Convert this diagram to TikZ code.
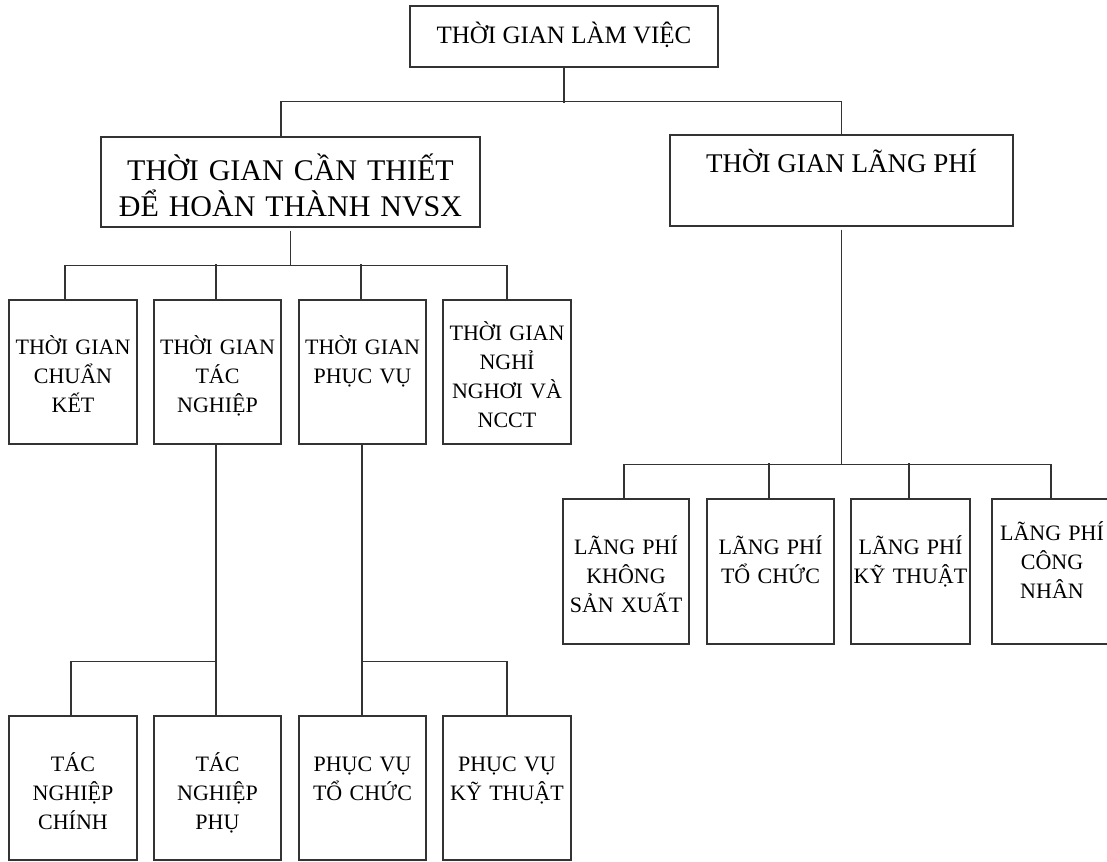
\documentclass[tikz,border=0pt]{standalone}
\usepackage{fontspec}
\setmainfont{Liberation Serif}
\begin{document}
\begin{tikzpicture}[x=1pt,y=-1pt,
  box/.style={draw=black!80, line width=1.2pt, inner sep=0pt, rectangle},
  conn/.style={draw=black!80, line width=1.2pt},
  txt/.style={anchor=base, align=center, inner sep=0pt, text width=150pt, font=\fontsize{22}{29}\selectfont},
  big/.style={font=\fontsize{30}{36}\selectfont},
  mid/.style={font=\fontsize{26}{30}\selectfont}]
\useasboundingbox (0,0) rectangle (1107,861);
\clip (0,0) rectangle (1107,861);
% level 0
\node[box, minimum width=308pt, minimum height=61pt] (top) at (564,36.5) {};
\node[anchor=base, inner sep=0pt, font=\fontsize{25}{30}\selectfont] (toptxt) at (564,44) {THỜI GIAN LÀM VIỆC};
% level 1
\node[box, minimum width=379pt, minimum height=90pt] (big) at (290.5,182) {};
\begin{scope}
\clip (101,137) rectangle (480,215.5);
\node[txt, big, text width=380pt] (bigtxt) at (290.5,180) {THỜI GIAN CẦN THIẾT\\ĐỂ HOÀN THÀNH NVSX};
\end{scope}
\node[box, minimum width=343pt, minimum height=91pt] (waste) at (841.5,180.5) {};
\node[anchor=base, inner sep=0pt, font=\fontsize{27}{30}\selectfont] (wastetxt) at (841.5,173) {THỜI GIAN LÃNG PHÍ};
% level 2 left
\node[box, minimum width=128pt, minimum height=144pt] (b1) at (73,372) {};
\node[box, minimum width=127pt, minimum height=144pt] (b2) at (217.5,372) {};
\node[box, minimum width=127pt, minimum height=144pt] (b3) at (362.5,372) {};
\node[box, minimum width=128pt, minimum height=144pt] (b4) at (507,372) {};
\node[txt] (b1t) at (73,354) {THỜI GIAN\\CHUẨN\\KẾT};
\node[txt] (b2t) at (217.5,354) {THỜI GIAN\\TÁC\\NGHIỆP};
\node[txt] (b3t) at (362.5,354) {THỜI GIAN\\PHỤC VỤ};
\node[txt] (b4t) at (507,340) {THỜI GIAN\\NGHỈ\\NGHƠI VÀ\\NCCT};
% level 3 left
\node[box, minimum width=128pt, minimum height=144pt] (c1) at (73,788) {};
\node[box, minimum width=127pt, minimum height=144pt] (c2) at (217.5,788) {};
\node[box, minimum width=127pt, minimum height=144pt] (c3) at (362.5,788) {};
\node[box, minimum width=128pt, minimum height=144pt] (c4) at (507,788) {};
\node[txt] (c1t) at (73,771) {TÁC\\NGHIỆP\\CHÍNH};
\node[txt] (c2t) at (217.5,771) {TÁC\\NGHIỆP\\PHỤ};
\node[txt] (c3t) at (362.5,771) {PHỤC VỤ\\TỔ CHỨC};
\node[txt] (c4t) at (507,771) {PHỤC VỤ\\KỸ THUẬT};
% level 2 right
\node[box, minimum width=126pt, minimum height=145pt] (r1) at (626,571.5) {};
\node[box, minimum width=127pt, minimum height=145pt] (r2) at (770.5,571.5) {};
\node[box, minimum width=119pt, minimum height=145pt] (r3) at (910.5,571.5) {};
\node[box, minimum width=126pt, minimum height=145pt] (r4) at (1055,571.5) {};
\node[txt] (r1t) at (626,554) {LÃNG PHÍ\\KHÔNG\\SẢN XUẤT};
\node[txt] (r2t) at (770.5,554) {LÃNG PHÍ\\TỔ CHỨC};
\node[txt] (r3t) at (910.5,554) {LÃNG PHÍ\\KỸ THUẬT};
\node[txt] (r4t) at (1052,540) {LÃNG PHÍ\\CÔNG\\NHÂN};
% connectors
\draw[conn] (top.south) -- ++(0,35);
\draw[conn] ([xshift=-9.5pt]big.north) -- ++(0,-35) -| (waste.north);
\draw[conn] ([yshift=-3pt]big.south) -- ++(0,35) coordinate (h1);
\draw[conn] ([xshift=-8pt]b1.north) |- (h1);
\draw[conn] (b4.north) |- (h1);
\draw[conn] ([xshift=-1.5pt]b2.north) -- ++(0,-35);
\draw[conn] ([xshift=-1.5pt]b3.north) -- ++(0,-35);
\draw[conn] ([yshift=-3pt]waste.south) -- ++(0,235) coordinate (h2);
\draw[conn] ([xshift=-2pt]r1.north) |- (h2);
\draw[conn] ([xshift=-4pt]r4.north) |- (h2);
\draw[conn] ([xshift=-1.5pt]r2.north) -- ++(0,-35);
\draw[conn] ([xshift=-1.5pt]r3.north) -- ++(0,-35);
\draw[conn] ([xshift=-1.5pt]b2.south) -- ([xshift=-1.5pt]c2.north);
\draw[conn] ([xshift=-2pt]c1.north) |- ([xshift=-1.5pt,yshift=54pt]c2.north);
\draw[conn] ([xshift=-0.5pt]b3.south) -- ([xshift=-0.5pt]c3.north);
\draw[conn] (c4.north) |- ([xshift=-0.5pt,yshift=54pt]c3.north);
\end{tikzpicture}
\end{document}
